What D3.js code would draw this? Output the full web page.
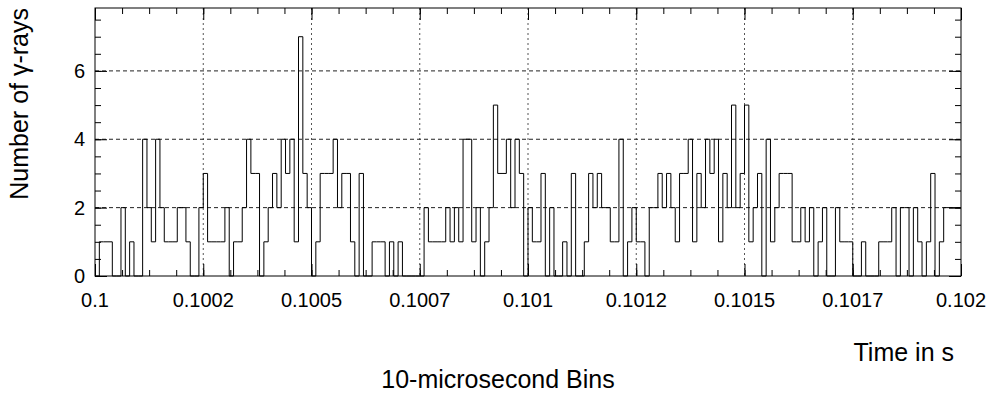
<!DOCTYPE html>
<html>
<head>
<meta charset="utf-8">
<script src="https://cdn.jsdelivr.net/npm/d3@7/dist/d3.min.js"></script>
<style>
body { margin: 0; background: #fff; }
text { font-family: "Liberation Sans", Arial, Helvetica, sans-serif; fill: #000; }
</style>
</head>
<body>
<svg id="chart" width="998" height="396"></svg>
<script>
// 10-microsecond bins from 0.1 s to 0.102 s
var binStart = 0.1;
var binWidth = 0.00001;
var counts = [
  0,1,1,1,0,0,2,0,1,0, 0,4,2,1,4,2,1,1,1,2,
  2,1,0,0,2,3,1,1,1,1, 2,0,1,1,2,4,3,3,0,1,
  2,3,2,4,3,4,1,7,3,2, 0,1,3,3,3,4,2,3,3,1,
  0,3,0,0,1,1,1,0,1,0, 1,0,0,0,0,0,2,1,1,1,
  1,2,1,2,1,4,4,1,2,0, 1,2,5,3,3,4,2,4,3,0,
  2,1,1,3,0,2,0,0,1,0, 3,0,0,1,3,2,3,2,2,1,
  1,4,0,1,2,1,1,0,2,2, 3,2,3,2,1,3,3,4,1,3,
  2,4,3,4,1,3,2,5,2,3, 5,1,2,3,0,4,1,2,3,3,
  3,1,1,2,1,2,0,1,2,0, 0,2,1,1,1,0,0,1,0,0,
  0,1,1,1,2,0,2,2,0,2, 1,0,1,3,0,1,2,2,2,2
];
var xTicks = [0.1, 0.10025, 0.1005, 0.10075, 0.101, 0.10125, 0.1015, 0.10175, 0.102];
var xTickLabels = ["0.1", "0.1002", "0.1005", "0.1007", "0.101", "0.1012", "0.1015", "0.1017", "0.102"];
var yTicks = [0, 2, 4, 6];
var yMax = 7.84;

var margin = {top: 8, right: 37, bottom: 120, left: 95};
var width = 998 - margin.left - margin.right;
var height = 396 - margin.top - margin.bottom;

var xScale = d3.scaleLinear()
               .domain([binStart, binStart + counts.length * binWidth])
               .range([0, width]);

var yScale = d3.scaleLinear()
               .domain([0, yMax])
               .range([height, 0]);

var svg = d3.select("#chart");
var g = svg.append("g")
           .attr("transform", "translate(" + margin.left + "," + margin.top + ")");

// minor ticks: quarters of the x major step, halves on y
var xMinor = d3.range(0, 33).map(function(k){ return binStart + k * 0.0000625; });
var yMinor = d3.range(0, 16).map(function(k){ return k * 0.5; });

// grid
g.append("g").selectAll("line")
  .data(xTicks.slice(1, -1))
  .enter().append("line")
  .attr("x1", function(d){ return xScale(d); })
  .attr("x2", function(d){ return xScale(d); })
  .attr("y1", 0).attr("y2", height)
  .attr("stroke", "#555").attr("stroke-dasharray", "2,3");

g.append("g").selectAll("line")
  .data(yTicks.slice(1))
  .enter().append("line")
  .attr("x1", 0).attr("x2", width)
  .attr("y1", function(d){ return yScale(d); })
  .attr("y2", function(d){ return yScale(d); })
  .attr("stroke", "#222").attr("stroke-dasharray", "4,3");

// histogram outline
var pts = counts.map(function(c, i){ return {x: binStart + i * binWidth, y: c}; });
pts.push({x: binStart + counts.length * binWidth, y: counts[counts.length - 1]});

var line = d3.line()
             .x(function(d){ return xScale(d.x); })
             .y(function(d){ return yScale(d.y); })
             .curve(d3.curveStepAfter);

g.append("path")
  .datum(pts)
  .attr("fill", "none")
  .attr("stroke", "#000")
  .attr("stroke-width", 1)
  .attr("d", line);

// axes, ticks drawn inward like ROOT
function tickAxis(axis, transform) {
  var a = g.append("g").attr("transform", transform).call(axis);
  a.select(".domain").remove();
  a.selectAll("line").attr("stroke", "#000");
  return a;
}

tickAxis(d3.axisBottom(xScale).tickValues(xMinor).tickSize(-6).tickFormat(""), "translate(0," + height + ")");
tickAxis(d3.axisTop(xScale).tickValues(xMinor).tickSize(-6).tickFormat(""), "translate(0,0)");
tickAxis(d3.axisBottom(xScale).tickValues(xTicks).tickSize(-12).tickFormat(""), "translate(0," + height + ")");
tickAxis(d3.axisTop(xScale).tickValues(xTicks).tickSize(-12).tickFormat(""), "translate(0,0)");

tickAxis(d3.axisLeft(yScale).tickValues(yMinor).tickSize(-6).tickFormat(""), "translate(0,0)");
tickAxis(d3.axisRight(yScale).tickValues(yMinor).tickSize(-6).tickFormat(""), "translate(" + width + ",0)");
tickAxis(d3.axisLeft(yScale).tickValues(yTicks).tickSize(-12).tickFormat(""), "translate(0,0)");
tickAxis(d3.axisRight(yScale).tickValues(yTicks).tickSize(-12).tickFormat(""), "translate(" + width + ",0)");

// frame
g.append("rect")
  .attr("x", 0).attr("y", 0)
  .attr("width", width).attr("height", height)
  .attr("fill", "none").attr("stroke", "#000");

// tick labels
g.append("g").selectAll("text")
  .data(xTicks)
  .enter().append("text")
  .attr("x", function(d){ return xScale(d); })
  .attr("y", height + 31)
  .attr("text-anchor", "middle")
  .style("font-size", "20px")
  .text(function(d, i){ return xTickLabels[i]; });

g.append("g").selectAll("text")
  .data(yTicks)
  .enter().append("text")
  .attr("x", -10)
  .attr("y", function(d){ return yScale(d) + 7; })
  .attr("text-anchor", "end")
  .style("font-size", "20px")
  .text(function(d){ return d; });

// titles
svg.append("text")
  .attr("x", 954).attr("y", 361)
  .attr("text-anchor", "end")
  .style("font-size", "25px")
  .text("Time in s");

svg.append("text")
  .attr("x", 498).attr("y", 388)
  .attr("text-anchor", "middle")
  .style("font-size", "25px")
  .text("10-microsecond Bins");

svg.append("text")
  .attr("transform", "translate(28,8) rotate(-90)")
  .attr("text-anchor", "end")
  .style("font-size", "25px")
  .text("Number of \u03b3-rays");
</script>
</body>
</html>
